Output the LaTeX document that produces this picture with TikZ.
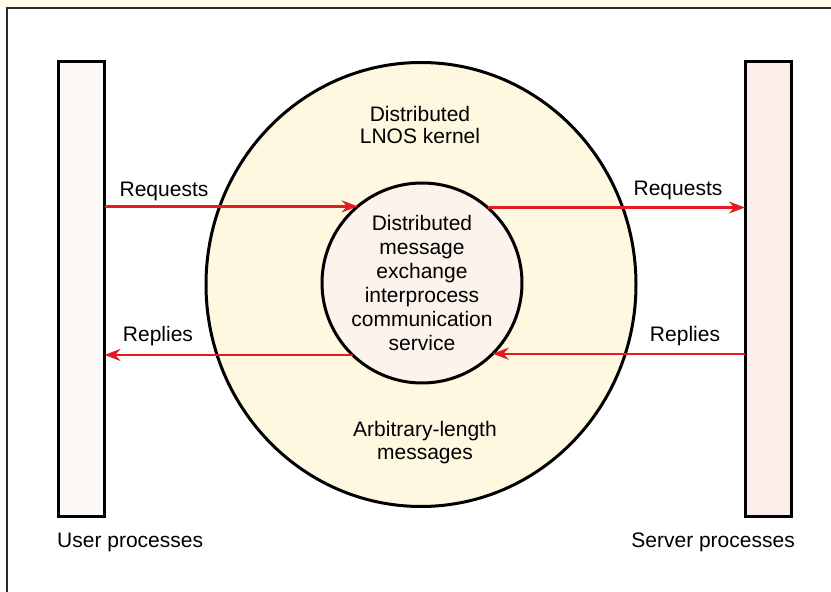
\documentclass[tikz,border=0pt]{standalone}
\usepackage{fontspec}
\setmainfont{Liberation Sans}
\usetikzlibrary{arrows.meta,shapes.geometric}
\definecolor{arrred}{HTML}{E51B24}
\definecolor{kernelfill}{HTML}{FDF8DF}
\definecolor{corefill}{HTML}{FBF3EC}
\definecolor{userfill}{HTML}{FDF9F6}
\definecolor{serverfill}{HTML}{FAEDEA}
\definecolor{framecol}{HTML}{2A2A2A}
\definecolor{stripfill}{HTML}{FEFCE6}
\begin{document}
\begin{tikzpicture}[x=1pt,y=1pt,
  procbox/.style={draw=black, line width=3pt, minimum width=46pt, minimum height=455pt, inner sep=0pt, outer sep=0pt},
  lbl/.style={font=\fontsize{21}{24}\selectfont, inner sep=0pt},
  msg/.style={draw=arrred, line width=2.4pt, -{Stealth[length=16pt,width=12pt]}}]
\useasboundingbox (0,0) rectangle (831,592);
\fill[white] (0,0) rectangle (831,592);
\fill[stripfill] (0,584) rectangle (831,592);
\draw[framecol, line width=2.2pt] (7,0) -- (7,584) -- (831,584);
\node[procbox, fill=userfill] (user) at (81.5,302.5) {};
\node[procbox, fill=serverfill] (server) at (768,302.5) {};
\node[ellipse, draw, line width=3pt, fill=kernelfill, minimum width=430pt, minimum height=444pt, inner sep=0pt, outer sep=0pt] (kernel) at (421,307.5) {};
\node[circle, draw, line width=3pt, fill=corefill, minimum size=200pt, inner sep=0pt, outer sep=0pt] (core) at (422,309) {};
\node[lbl, align=center] (coretext) at (core.center) {Distributed\\message\\exchange\\interprocess\\communication\\service};
\node[lbl, align=center, font=\fontsize{21}{22}\selectfont] (kerneltext) at (420,466.6) {Distributed\\LNOS kernel};
\node[lbl, align=center, font=\fontsize{21}{23}\selectfont] (msgtext) at (425,149) {Arbitrary-length\\messages};
\draw[msg] (user.east |- core.130.5) -- (core.130.5);
\draw[msg] (core.49.5) -- (server.west |- core.49.5);
\draw[msg] (server.west |- core.-45.2) -- (core.-45.2);
\draw[msg] (core.-134.8) -- (user.east |- core.-134.8);
\node[lbl, anchor=base] (req1) at (164,395) {Requests};
\node[lbl, anchor=base] (req2) at (678,396) {Requests};
\node[lbl, anchor=base] (rep1) at (158,250) {Replies};
\node[lbl, anchor=base] (rep2) at (685,250) {Replies};
\node[lbl, anchor=base west] (userlbl) at (57,44) {User processes};
\node[lbl, anchor=base east] (serverlbl) at (795,44) {Server processes};
\end{tikzpicture}
\end{document}
